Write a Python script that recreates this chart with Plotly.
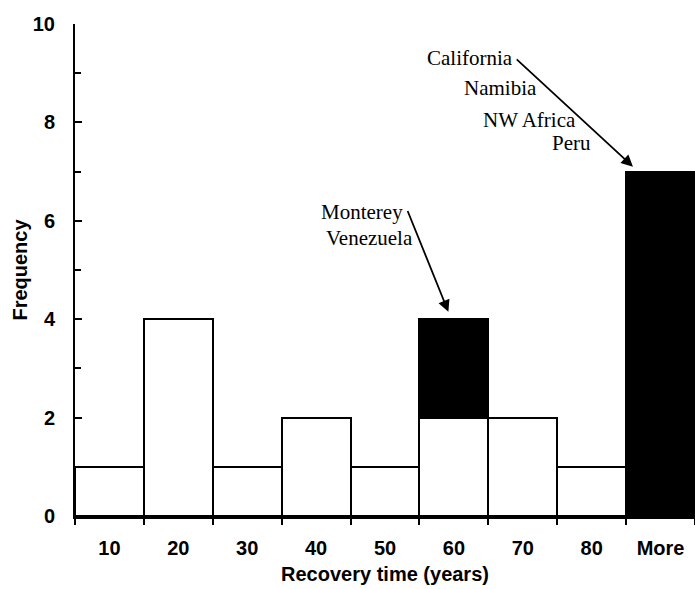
import plotly.graph_objects as go

categories = ["10", "20", "30", "40", "50", "60", "70", "80", "More"]
white_counts = [1, 4, 1, 2, 1, 2, 2, 1, 0]
black_counts = [0, 0, 0, 0, 0, 2, 0, 0, 7]
y_ticks = [0, 2, 4, 6, 8, 10]
group_a = ["California", "Namibia", "NW Africa", "Peru"]
group_b = ["Monterey", "Venezuela"]

fig = go.Figure()
fig.add_bar(x=categories, y=white_counts, marker=dict(color="white", line=dict(color="black", width=2)), showlegend=False)
fig.add_bar(x=categories, y=black_counts, marker=dict(color="black", line=dict(color="black", width=2)), showlegend=False)

serif = dict(family="Liberation Serif, Times New Roman, serif", size=21, color="black", weight="normal")

# pixel->data: x = (px-75)/68.9 - 0.5 ; y = (516-py)/49.2
pos_a = [(5.89, 9.31), (6.24, 8.70), (6.80, 8.05), (7.02, 7.58)]
for t, (x, y) in zip(group_a, pos_a):
    fig.add_annotation(x=x, y=y, xref="x", yref="y", text=t, showarrow=False,
                       xanchor="right", yanchor="middle", font=serif)
pos_b = [(4.29, 6.18), (4.43, 5.65)]
for t, (x, y) in zip(group_b, pos_b):
    fig.add_annotation(x=x, y=y, xref="x", yref="y", text=t, showarrow=False,
                       xanchor="right", yanchor="middle", font=serif)

# arrows
fig.add_annotation(x=7.6, y=7.1, xref="x", yref="y", ax=5.89, ay=9.31, axref="x", ayref="y",
                   text="", showarrow=True, arrowhead=2, arrowsize=1.3, arrowwidth=1.8, arrowcolor="black")
fig.add_annotation(x=4.92, y=4.15, xref="x", yref="y", ax=4.32, ay=6.23, axref="x", ayref="y",
                   text="", showarrow=True, arrowhead=2, arrowsize=1.3, arrowwidth=1.8, arrowcolor="black")

sans = "Liberation Sans, Arial, sans-serif"
fig.update_layout(
    width=695, height=589,
    margin=dict(l=75, r=0, t=24, b=73),
    barmode="stack", bargap=0,
    plot_bgcolor="white", paper_bgcolor="white",
    font=dict(family=sans, size=21, color="black"),
    xaxis=dict(type="category", range=[-0.5, 8.5], showline=True, linecolor="black", linewidth=2.5,
               ticks="outside", tickson="boundaries", ticklen=6, tickcolor="black", tickwidth=1.5,
               showgrid=False, tickfont=dict(size=20, weight="bold"), ticklabelstandoff=12,
               title=dict(text="Recovery time (years)", font=dict(size=20, weight="bold"), standoff=10)),
    yaxis=dict(range=[0, 10], tickvals=y_ticks, showline=True, linecolor="black", linewidth=2,
               ticks="inside", ticklen=7, tickcolor="black", tickwidth=1.5,
               minor=dict(dtick=1, ticks="inside", ticklen=6, tickcolor="black", tickwidth=1.5),
               showgrid=False, zeroline=False, tickfont=dict(size=20, weight="bold"), ticklabelstandoff=14,
               title=dict(text="Frequency", font=dict(size=20, weight="bold"), standoff=0)),
)
fig.write_html("out.html")
